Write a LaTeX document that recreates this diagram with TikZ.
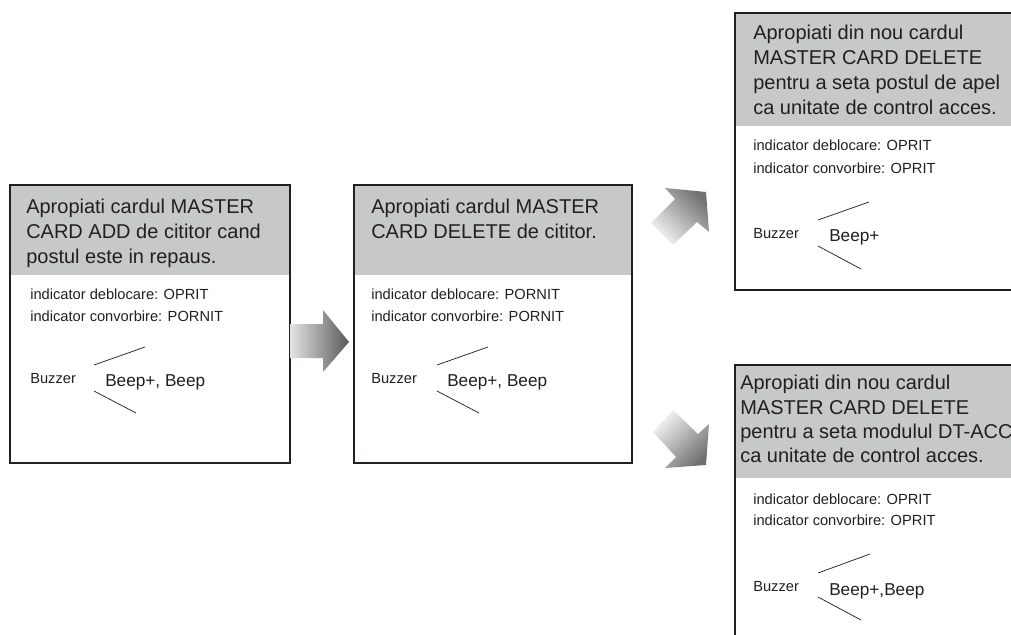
\documentclass[tikz,border=0pt]{standalone}
\usepackage{fontspec}
\setmainfont{Liberation Sans}
\definecolor{ink}{HTML}{231F20}
\definecolor{band}{HTML}{C6C8CA}
\definecolor{arrowlight}{HTML}{E2E3E4}
\definecolor{arrowdark}{HTML}{58595B}
\definecolor{diaglight}{HTML}{F4F4F5}
\definecolor{diagdark}{HTML}{707173}
\newcommand{\titlefont}{\fontsize{15pt}{18.75pt}\selectfont}
\tikzset{
  x=0.75pt,y=-0.75pt,
  frame/.style={draw=ink,line width=1.5pt},
  bandfill/.style={fill=band,draw=none},
  titletext/.style={anchor=base west,inner sep=0pt,text=ink,font=\titlefont},
  smalltext/.style={anchor=base west,inner sep=0pt,text=ink,font=\fontsize{11pt}{13pt}\selectfont},
  beeptext/.style={anchor=base west,inner sep=0pt,text=ink,font=\fontsize{12.9pt}{15pt}\selectfont},
  wedge/.style={draw=ink,line width=0.55pt},
  gradarrow/.style={shading=axis,bottom color=diaglight,top color=diagdark,shading angle=#1},
}
\begin{document}
\begin{tikzpicture}
\useasboundingbox (0,0) rectangle (1011,635);
\begin{scope}
\clip (0,0) rectangle (1011,635);
% bands
\fill[bandfill] (10,185) rectangle (290,275);
\fill[bandfill] (354,185) rectangle (632,275);
\fill[bandfill] (735,13) rectangle (1011,126);
\fill[bandfill] (735,365) rectangle (1011,478);
% frames
\draw[frame] (10,185) rectangle (290,463);
\draw[frame] (354,185) rectangle (632,463);
\draw[frame] (1012,13) -- (735,13) -- (735,290) -- (1012,290);
\draw[frame] (1012,365) -- (735,365) -- (735,636);
% arrows
\shade[left color=arrowlight,right color=arrowdark] (290,324) -- (323,324) -- (323,310) -- (349,342) -- (323,372) -- (323,358) -- (290,358) -- cycle;
\shade[gradarrow=-45] (665,188) -- (706,192) -- (709,232) -- (697,222) -- (673,245) -- (651,223) -- (675,199) -- cycle;
\shade[gradarrow=-135] (673,410) -- (698,434) -- (709,424) -- (706,465) -- (665,468) -- (676,457) -- (653,432) -- cycle;
% box 1
\node[titletext] (a1) at (26,213) {Apropiati cardul MASTER};
\node[titletext] (a2) at (26,238) {CARD ADD de cititor cand};
\node[titletext] (a3) at (26,263) {postul este in repaus.};
\node[smalltext] (a4) at (30,299) {indicator deblocare: OPRIT};
\node[smalltext] (a5) at (30,321) {indicator convorbire: PORNIT};
\node[smalltext] (a6) at (30,383) {Buzzer};
\node[beeptext] (a7) at (105,386) {Beep+, Beep};
\draw[wedge] (94,365) -- (145,347);
\draw[wedge] (94,391) -- (136,413);
% box 2
\node[titletext] (b1) at (371,213) {Apropiati cardul MASTER};
\node[titletext] (b2) at (371,238) {CARD DELETE de cititor.};
\node[smalltext] (b4) at (371,299) {indicator deblocare: PORNIT};
\node[smalltext] (b5) at (371,321) {indicator convorbire: PORNIT};
\node[smalltext] (b6) at (371,383) {Buzzer};
\node[beeptext] (b7) at (447,386) {Beep+, Beep};
\draw[wedge] (437,365) -- (488,347);
\draw[wedge] (437,391) -- (479,413);
% box 3
\node[titletext] (c1) at (753,40) {Apropiati din nou cardul};
\node[titletext] (c2) at (753,65) {MASTER CARD DELETE};
\node[titletext] (c3) at (753,90) {pentru a seta postul de apel};
\node[titletext] (c4) at (753,115) {ca unitate de control acces.};
\node[smalltext] (c5) at (753,151) {indicator deblocare: OPRIT};
\node[smalltext] (c6) at (753,173) {indicator convorbire: OPRIT};
\node[smalltext] (c7) at (753,238) {Buzzer};
\node[beeptext] (c8) at (829,241) {Beep+};
\draw[wedge] (818,220) -- (869,202);
\draw[wedge] (818,246) -- (861,269);
% box 4
\node[titletext] (d1) at (740,389) {Apropiati din nou cardul};
\node[titletext] (d2) at (740,414) {MASTER CARD DELETE};
\node[titletext] (d3) at (740,438) {pentru a seta modulul DT-ACC};
\node[titletext] (d4) at (740,462) {ca unitate de control acces.};
\node[smalltext] (d5) at (753,504) {indicator deblocare: OPRIT};
\node[smalltext] (d6) at (753,525) {indicator convorbire: OPRIT};
\node[smalltext] (d7) at (753,591) {Buzzer};
\node[beeptext] (d8) at (829,595) {Beep+,Beep};
\draw[wedge] (818,573) -- (870,554);
\draw[wedge] (818,597) -- (861,620);
\end{scope}
\end{tikzpicture}
\end{document}
